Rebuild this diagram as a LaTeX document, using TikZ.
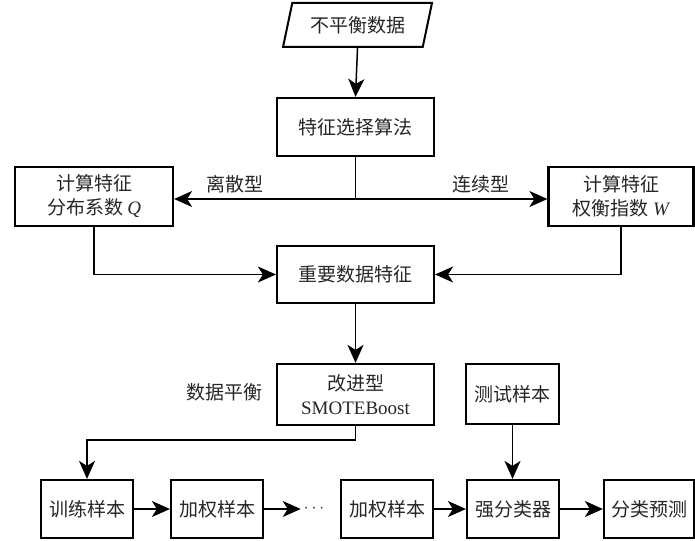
\documentclass[tikz,border=0pt]{standalone}
\usepackage{fontspec}
\setmainfont{Liberation Serif}
\newfontfamily\cjk{Noto Sans CJK SC}
\usetikzlibrary{shapes.geometric,arrows.meta}
\tikzset{
  box/.style={draw, line width=2.2pt, minimum height=58pt, inner sep=2pt, align=center},
  lbl/.style={inner sep=0pt},
  conn/.style={line width=1.5pt, -{Stealth[length=18pt,width=16pt,inset=5pt]}},
  plain/.style={line width=1.5pt}
}
\begin{document}
\begin{tikzpicture}[x=1pt,y=-1pt, font=\cjk\fontsize{19}{24}\selectfont, text=black!85]
\useasboundingbox (0,0) rectangle (695,540);
% nodes
\node[draw, line width=2pt, trapezium, trapezium left angle=69, trapezium right angle=111,
  trapezium stretches=true, minimum width=149pt, minimum height=44pt, inner sep=0pt]
  (data) at (357.5,25) {不平衡数据};
\node[box, minimum width=157pt] (sel) at (355.5,127) {特征选择算法};
\node[box, minimum width=158pt, minimum height=59pt] (q) at (94,196.5) {计算特征\\分布系数 {\rmfamily\itshape Q}};
\node[box, minimum width=145pt, minimum height=59pt] (w) at (621,196.5) {计算特征\\权衡指数 {\rmfamily\itshape W}};
\node[box, minimum width=157pt, minimum height=57pt] (imp) at (355.5,274.5) {重要数据特征};
\node[box, minimum width=157pt, minimum height=61pt] (smote) at (355.5,394.5) {改进型\\{\rmfamily SMOTEBoost}};
\node[box, minimum width=93pt, minimum height=60pt] (test) at (512.5,394) {测试样本};
\node[lbl] (bal) at (224,392) {数据平衡};
\node[lbl] (lisan) at (235,184) {离散型};
\node[lbl] (lianxu) at (481,184) {连续型};
\node[box, minimum width=92pt] (train) at (87,509) {训练样本};
\node[box, minimum width=92pt] (w1) at (217,509) {加权样本};
\node[lbl] (dots) at (314,509) {$\cdots$};
\node[box, minimum width=92pt] (w2) at (387,509) {加权样本};
\node[box, minimum width=92pt] (strong) at (513,509) {强分类器};
\node[box, minimum width=90pt] (pred) at (649,509) {分类预测};
\coordinate (br) at (355.5,199);
\coordinate (bend) at (355.5,440);
% connectors
\draw[conn] (data.south) -- (sel.north);
\draw[plain] (sel.south) -- (br);
\draw[conn] (br) -- (br -| q.east);
\draw[conn] (br) -- (br -| w.west);
\draw[conn] (q.south) |- (imp.west);
\draw[conn] (w.south) |- (imp.east);
\draw[conn] (imp.south) -- (smote.north);
\draw[plain] (smote.south) -- (bend);
\draw[conn] (bend) -| (train.north);
\draw[conn] (test.south) -- (test.south |- strong.north);
\draw[conn] (train.east) -- (w1.west);
\draw[conn] (w1.east) -- ([xshift=-3pt]dots.west);
\draw[conn] (w2.east) -- (strong.west);
\draw[conn] (strong.east) -- (pred.west);
\end{tikzpicture}
\end{document}
